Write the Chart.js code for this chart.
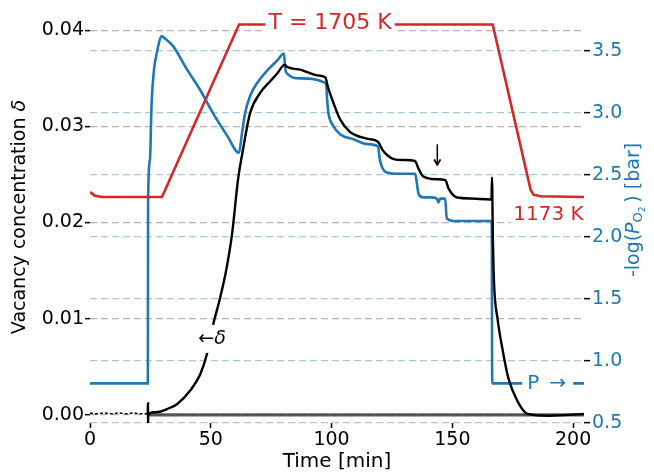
<!DOCTYPE html>
<html>
<head>
<meta charset="utf-8">
<script src="https://cdn.jsdelivr.net/npm/chart.js@4.4.1/dist/chart.umd.min.js"></script>
<style>
  html, body { margin: 0; padding: 0; background: #fff; }
  canvas { display: block; }
</style>
</head>
<body>
<canvas id="myChart" width="654" height="475"></canvas>
<script>
'use strict';
// values
// vacancy concentration (left axis)
const deltaTime = [0, 3, 6, 9, 12, 15, 18, 21, 23.9, 24.0, 24.05, 24.1, 28, 31.9, 36, 41.4, 45.6, 48.5, 51, 53.8,
  56.5, 58.8, 61.3, 63, 66.3, 70.5, 74.6, 77.5, 80.5, 81.5, 84, 87, 90.5, 94, 97.4, 98.6, 100.7, 103.6, 107.7, 111.9,
  115, 119.2, 121.2, 123.1, 125.7, 130, 134.5, 136, 137.5, 140, 143.7, 147.1, 148.5, 152, 158, 165.8, 166.2, 166.4,
  166.8, 167.3, 168.7, 170.7, 173.2, 177, 181.1, 190, 204.5];
const deltaValue = [0.0002, 0.0001, 0.0002, 0.0001, 0.0002, 0.0001, 0.0002, 0.0001, 0.0001, 0.0012, -0.0009, 0.0001,
  0.0003, 0.0006, 0.0011, 0.0025, 0.0042, 0.0064, 0.0094, 0.0121, 0.0152, 0.0188, 0.0245, 0.0271, 0.0314, 0.0335,
  0.0347, 0.0355, 0.0364, 0.0362, 0.036, 0.0359, 0.0356, 0.0353, 0.0351, 0.034, 0.0325, 0.0307, 0.0294, 0.0289,
  0.0287, 0.0284, 0.0275, 0.027, 0.0266, 0.0265, 0.0264, 0.0256, 0.0249, 0.0246, 0.0245, 0.0244, 0.0235, 0.0226,
  0.0225, 0.0224, 0.0224, 0.0247, 0.018, 0.0135, 0.01, 0.0069, 0.0038, 0.0014, 0.0001, -0.0001, 0.0001];
// -log(pO2) (right axis)
const pressureTime = [0, 23.95, 24.05, 24.8, 25.5, 26.5, 27.6, 29.7, 30.5, 34.4, 40.2, 45.5, 50.9, 56.7, 61.7, 62.8,
  64.2, 66.3, 69.1, 73.2, 77.3, 80.3, 80.8, 81.5, 87, 97.7, 98.2, 98.7, 100.6, 103.5, 108.9, 114.7, 119.3, 119.8,
  120.4, 122.9, 128, 134.6, 135.2, 136, 138, 141, 143.6, 144.2, 145, 147, 147.7, 150.5, 158, 166.3, 166.5, 204.5];
const pressureValue = [0.82, 0.82, 2.3, 2.62, 3.08, 3.35, 3.48, 3.62, 3.61, 3.54, 3.35, 3.19, 3.0, 2.82, 2.68, 2.82,
  3.0, 3.14, 3.24, 3.34, 3.42, 3.48, 3.36, 3.32, 3.28, 3.24, 3.1, 3.0, 2.9, 2.83, 2.79, 2.75, 2.73, 2.65,
  2.59, 2.52, 2.51, 2.51, 2.45, 2.35, 2.32, 2.32, 2.31, 2.28, 2.31, 2.31, 2.15, 2.13, 2.13, 2.13, 0.82, 0.82];
// furnace temperature, K (hidden axis)
const tempTime = [0, 2, 5, 29.8, 61.7, 166.7, 182.4, 183.6, 186.5, 204.5];
const tempValue = [1188, 1177, 1173, 1173, 1705, 1705, 1195, 1180, 1175, 1173];
// baseline
const zeroTime = [24, 204.5];
const zeroValue = [0, 0];

const timeTicks = [0, 50, 100, 150, 200];
const deltaTicks = [0, 0.01, 0.02, 0.03, 0.04];
const pressureTicks = [0.5, 1.0, 1.5, 2.0, 2.5, 3.0, 3.5];

const FONT = 'DejaVu Sans';
const BLUE = '#1f77b4';
const RED = '#d62728';

const toPoints = (xs, ys) => xs.map((x, i) => ({ x: x, y: ys[i] }));

// draws a run of text pieces, dy shifts a piece down (subscripts)
function textRun(ctx, parts, x, y, align) {
  let w = 0;
  parts.forEach(p => {
    ctx.font = p.font;
    p.w = ctx.measureText(p.text).width;
    w += p.w;
  });
  let cx = align === 'center' ? x - w / 2 : x;
  ctx.textBaseline = 'middle';
  ctx.textAlign = 'left';
  parts.forEach(p => {
    ctx.font = p.font;
    ctx.fillStyle = p.color;
    ctx.fillText(p.text, cx, y + (p.dy || 0));
    cx += p.w;
  });
  return w;
}

function boxedText(ctx, parts, x, y, align, padX, halfH) {
  let w = 0;
  parts.forEach(p => {
    ctx.font = p.font;
    w += ctx.measureText(p.text).width;
  });
  const left = align === 'center' ? x - w / 2 : x;
  ctx.fillStyle = '#fff';
  ctx.fillRect(left - padX, y - halfH, w + 2 * padX, 2 * halfH);
  textRun(ctx, parts, x, y, align);
}

const notes = {
  id: 'notes',
  afterDatasetsDraw(chart) {
    const ctx = chart.ctx;
    const sx = chart.scales.x;
    const sT = chart.scales.yT;
    const sP = chart.scales.y1;
    const sd = chart.scales.y;
    ctx.save();
    boxedText(ctx, [{ text: 'T = 1705 K', font: '22px ' + FONT, color: RED }],
      sx.getPixelForValue(99.4), sT.getPixelForValue(1705) - 1, 'center', 3, 12);
    boxedText(ctx, [{ text: '1173 K', font: '20px ' + FONT, color: RED }],
      sx.getPixelForValue(175.2), sT.getPixelForValue(1118), 'left', 2, 12);
    // P label sits on the blue line
    const py = sP.getPixelForValue(0.82);
    const px = sx.getPixelForValue(181);
    ctx.fillStyle = '#fff';
    ctx.fillRect(px - 5, py - 12, 51, 24);
    textRun(ctx, [{ text: 'P', font: '20px ' + FONT, color: BLUE }], px, py, 'left');
    textRun(ctx, [{ text: '\u2192', font: '20px ' + FONT, color: BLUE }], px + 22, py, 'left');
    boxedText(ctx, [{ text: '\u2190', font: '19px ' + FONT, color: '#000' },
      { text: '\u03b4', font: 'italic 19px ' + FONT, color: '#000' }],
      sx.getPixelForValue(50.5), sd.getPixelForValue(0.0079), 'center', 2, 14);
    ctx.save();
    ctx.translate(sx.getPixelForValue(143.8), sd.getPixelForValue(0.0267));
    ctx.scale(0.8, 1.35);
    textRun(ctx, [{ text: '\u2193', font: '22px ' + FONT, color: '#000' }], 0, 0, 'center');
    ctx.restore();
    ctx.restore();
  },
  afterDraw(chart) {
    const ctx = chart.ctx;
    const area = chart.chartArea;
    ctx.save();
    textRun(ctx, [{ text: 'Time [min]', font: '20px ' + FONT, color: '#000' }],
      (area.left + area.right) / 2, 462, 'center');
    ctx.save();
    ctx.translate(20, 217);
    ctx.rotate(-Math.PI / 2);
    textRun(ctx, [{ text: 'Vacancy concentration ', font: '19px ' + FONT, color: '#000' },
      { text: '\u03b4', font: 'italic 19px ' + FONT, color: '#000' }], 0, 0, 'center');
    ctx.restore();
    ctx.save();
    ctx.translate(634, 210);
    ctx.rotate(-Math.PI / 2);
    textRun(ctx, [{ text: '-log(', font: '19px ' + FONT, color: BLUE },
      { text: 'P', font: 'italic 19px ' + FONT, color: BLUE },
      { text: 'O', font: '13px ' + FONT, color: BLUE, dy: 5 },
      { text: '2', font: '9px ' + FONT, color: BLUE, dy: 9 },
      { text: '\u2009) [bar]', font: '19px ' + FONT, color: BLUE }], 0, 0, 'center');
    ctx.restore();
    ctx.restore();
  },
};

const config = {
  type: 'line',
  data: {
    datasets: [
      {
        label: 'T',
        data: toPoints(tempTime, tempValue),
        yAxisID: 'yT',
        borderColor: RED,
        borderWidth: 2.6,
        tension: 0,
        order: 0,
      },
      {
        label: 'delta',
        data: toPoints(deltaTime, deltaValue),
        yAxisID: 'y',
        borderColor: '#000',
        borderWidth: 2.4,
        cubicInterpolationMode: 'monotone',
        segment: {
          borderDash: c => (c.p1.parsed.x < 23.95 ? [3, 2] : undefined),
          borderWidth: c => (c.p1.parsed.x < 23.95 ? 1.5 : undefined),
        },
        order: 1,
      },
      {
        label: 'P',
        data: toPoints(pressureTime, pressureValue),
        yAxisID: 'y1',
        borderColor: BLUE,
        borderWidth: 2.6,
        cubicInterpolationMode: 'monotone',
        order: 2,
      },
      {
        label: 'zero',
        data: toPoints(zeroTime, zeroValue),
        yAxisID: 'y',
        borderColor: 'rgba(60,60,60,0.85)',
        borderWidth: 3.2,
        order: 3,
      },
    ],
  },
  options: {
    responsive: false,
    animation: false,
    devicePixelRatio: 1,
    layout: { padding: { top: 10, left: 0, right: 0, bottom: 0 } },
    elements: { point: { radius: 0 } },
    plugins: { legend: { display: false }, tooltip: { enabled: false } },
    scales: {
      x: {
        type: 'linear',
        min: 0,
        max: 204.5,
        afterBuildTicks: s => { s.ticks = timeTicks.map(v => ({ value: v })); },
        afterFit: s => { s.height = 52; },
        grid: { drawOnChartArea: false, tickLength: 5, tickColor: '#000', tickWidth: 1.5 },
        border: { display: false },
        ticks: { color: '#000', font: { family: FONT, size: 19 }, padding: 1, maxRotation: 0, autoSkip: false },
      },
      y: {
        position: 'left',
        min: -0.00085,
        max: 0.04175,
        afterBuildTicks: s => { s.ticks = deltaTicks.map(v => ({ value: v })); },
        afterFit: s => { s.width = 90; },
        grid: { color: '#b3b3b3', lineWidth: 1.3, tickLength: 5, tickColor: '#000', tickWidth: 1.5 },
        border: { display: false, dash: [7, 4] },
        ticks: { color: '#000', font: { family: FONT, size: 19 }, padding: 1, callback: v => v.toFixed(2) },
      },
      y1: {
        position: 'right',
        min: 0.5,
        max: 3.804,
        afterBuildTicks: s => { s.ticks = pressureTicks.map(v => ({ value: v })); },
        afterFit: s => { s.width = 70; },
        grid: { color: '#a5c9e1', lineWidth: 1.3, tickLength: 6, tickColor: '#000', tickWidth: 1.5 },
        border: { display: false, dash: [7, 4] },
        ticks: { color: BLUE, font: { family: FONT, size: 19 }, padding: 2, callback: v => v.toFixed(1) },
      },
      yT: {
        display: false,
        min: 476,
        max: 1739,
      },
    },
  },
  plugins: [notes],
};

const myChart = new Chart(document.getElementById('myChart'), config);
</script>
</body>
</html>
